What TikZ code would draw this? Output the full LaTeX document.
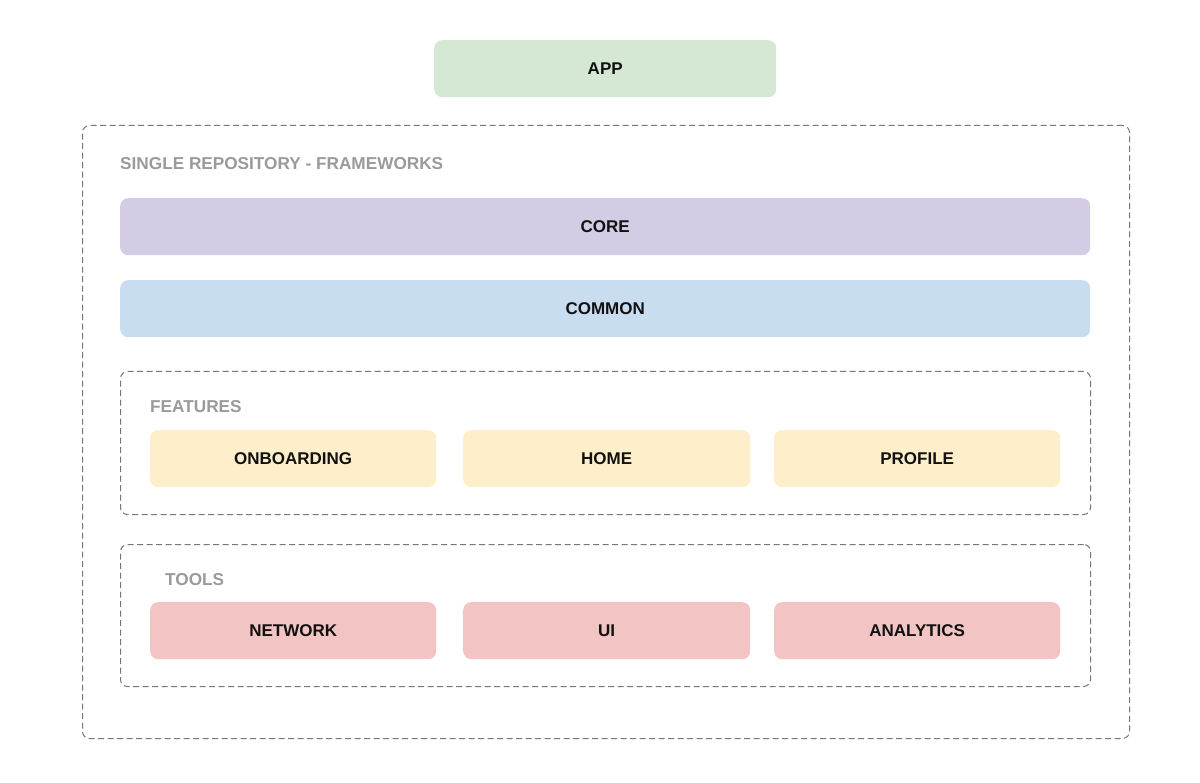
\documentclass[tikz,border=0pt]{standalone}
\usepackage{fontspec}
\setmainfont{Liberation Sans}
\definecolor{appc}{HTML}{D5E8D4}
\definecolor{corec}{HTML}{D4CCE5}
\definecolor{commc}{HTML}{C9DDF1}
\definecolor{featc}{HTML}{FEEFCA}
\definecolor{toolc}{HTML}{F2C4C4}
\definecolor{dashc}{HTML}{777777}
\definecolor{labc}{HTML}{9A9A9A}
\definecolor{txtc}{HTML}{111111}
\tikzset{
  blk/.style={rectangle, rounded corners=8pt, anchor=north west, inner sep=0pt,
    text=txtc, font=\fontsize{17}{20}\selectfont\bfseries},
  grp/.style={rectangle, rounded corners=7pt, anchor=north west, inner sep=0pt,
    draw=dashc, dash pattern=on 6pt off 3.5pt, line width=1pt},
  lab/.style={anchor=west, inner sep=0pt, text=labc, font=\fontsize{17.2}{20}\selectfont\bfseries}
}
\begin{document}
\begin{tikzpicture}[x=1pt,y=-1pt]
\useasboundingbox[fill=white] (0,0) rectangle (1200,783);
\node[blk, fill=appc, minimum width=342pt, minimum height=57pt] (app) at (434,40) {APP};
\node[grp, minimum width=1047pt, minimum height=613pt] (repo) at (82,125) {};
\node[lab] (repolab) at (120,164) {SINGLE REPOSITORY - FRAMEWORKS};
\node[blk, fill=corec, minimum width=970pt, minimum height=57pt] (core) at (120,198) {CORE};
\node[blk, fill=commc, minimum width=970pt, minimum height=57pt] (common) at (120,280) {COMMON};
\node[grp, minimum width=970pt, minimum height=143pt] (feat) at (120,371) {};
\node[lab] (featlab) at (150,407) {FEATURES};
\node[blk, fill=featc, minimum width=286pt, minimum height=57pt] (onb) at (150,430) {ONBOARDING};
\node[blk, fill=featc, minimum width=287pt, minimum height=57pt] (home) at (463,430) {HOME};
\node[blk, fill=featc, minimum width=286pt, minimum height=57pt] (prof) at (774,430) {PROFILE};
\node[grp, minimum width=970pt, minimum height=142pt] (tools) at (120,544) {};
\node[lab] (toolslab) at (165,580) {TOOLS};
\node[blk, fill=toolc, minimum width=286pt, minimum height=57pt] (net) at (150,602) {NETWORK};
\node[blk, fill=toolc, minimum width=287pt, minimum height=57pt] (ui) at (463,602) {UI};
\node[blk, fill=toolc, minimum width=286pt, minimum height=57pt] (ana) at (774,602) {ANALYTICS};
\end{tikzpicture}
\end{document}
